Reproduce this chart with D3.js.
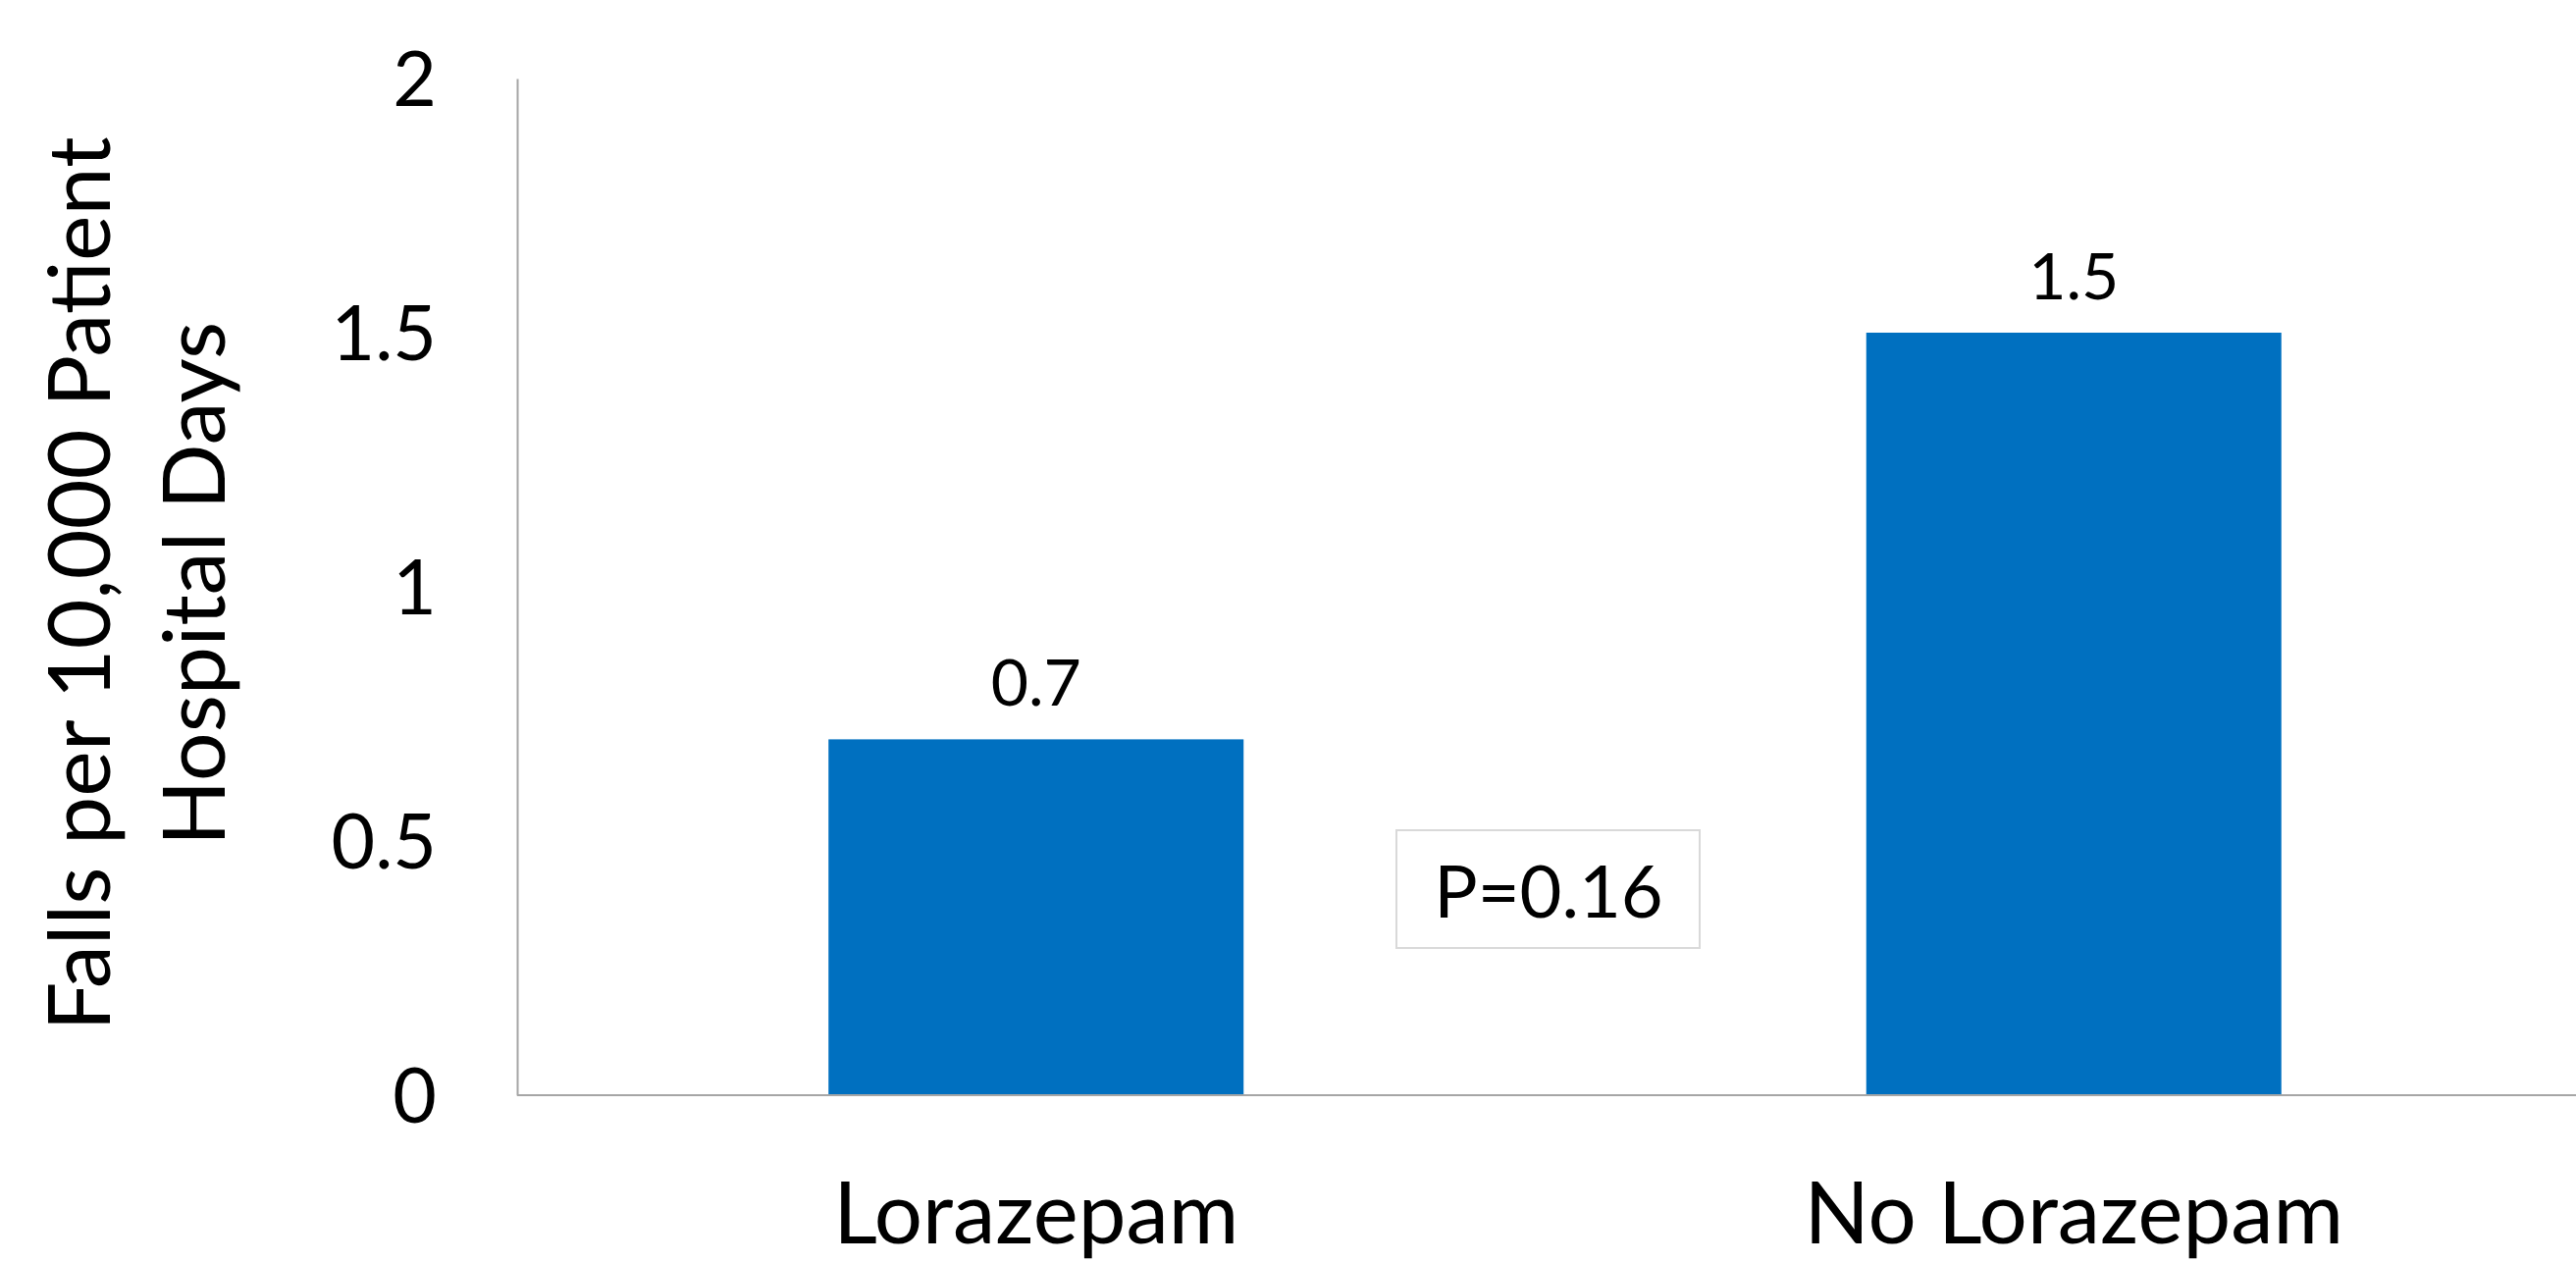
<!DOCTYPE html>
<html>
<head>
<meta charset="utf-8">
<script src="https://cdn.jsdelivr.net/npm/d3@7"></script>
<style>
  html, body { margin: 0; padding: 0; background: #fff; }
  svg { display: block; font-family: Lato, "Open Sans", sans-serif; }
</style>
</head>
<body>
<svg id="chart" width="2625" height="1287"></svg>
<script>
// --- data ---
const categories = ["Lorazepam", "No Lorazepam"];
const values = [0.7, 1.5];
const valueLabels = ["0.7", "1.5"];
const yTicks = [0, 0.5, 1, 1.5, 2];
const yTitleLines = ["Falls per 10,000 Patient", "Hospital Days"];
const pLabel = "P=0.16";

const svg = d3.select("#chart");

// plot area (the category axis runs a little past the right edge, as in the original)
const plotLeft = 527, plotRight = 2642, plotTop = 80, plotBottom = 1116;

const x = d3.scaleBand()
    .domain(categories)
    .range([plotLeft, plotRight])
    .paddingInner(0.6)
    .paddingOuter(0.3);

const y = d3.scaleLinear()
    .domain([0, 2])
    .range([plotBottom, plotTop]);

const axisColor = "#a6a6a6";

// bars
svg.selectAll("rect.bar")
    .data(values)
    .join("rect")
    .attr("class", "bar")
    .attr("x", (d, i) => x(categories[i]))
    .attr("width", x.bandwidth())
    .attr("y", d => y(d))
    .attr("height", d => y(0) - y(d))
    .attr("fill", "#0070c0");

// y axis
const yAxis = svg.append("g")
    .attr("transform", `translate(${plotLeft},0)`)
    .call(d3.axisLeft(y)
        .tickValues(yTicks)
        .tickFormat(d3.format("~g"))
        .tickSize(0)
        .tickPadding(82));
yAxis.select(".domain").attr("stroke", axisColor).attr("stroke-width", 2);
yAxis.selectAll(".tick text")
    .attr("fill", "#000")
    .attr("font-size", 77)
    .attr("font-family", "Lato, 'Open Sans', sans-serif")
    .attr("dy", "0.36em");

// x baseline
svg.append("line")
    .attr("x1", plotLeft).attr("x2", plotRight)
    .attr("y1", y(0)).attr("y2", y(0))
    .attr("stroke", axisColor)
    .attr("stroke-width", 2);

// category labels
svg.selectAll("text.cat")
    .data(categories)
    .join("text")
    .attr("class", "cat")
    .attr("x", d => x(d) + x.bandwidth() / 2)
    .attr("y", 1267)
    .attr("text-anchor", "middle")
    .attr("font-size", 87)
    .text(d => d);

// value labels
svg.selectAll("text.val")
    .data(values)
    .join("text")
    .attr("class", "val")
    .attr("x", (d, i) => x(categories[i]) + x.bandwidth() / 2)
    .attr("y", d => y(d) - 34)
    .attr("text-anchor", "middle")
    .attr("font-size", 66)
    .text((d, i) => valueLabels[i]);

// y axis title, two lines rotated
const title = svg.append("text")
    .attr("transform", "translate(0,595) rotate(-90)")
    .attr("text-anchor", "middle")
    .attr("font-size", 88);
title.selectAll("tspan")
    .data(yTitleLines)
    .join("tspan")
    .attr("x", 0)
    .attr("y", (d, i) => 112 + i * 117)
    .text(d => d);

// p-value box
const pBox = svg.append("g");
pBox.append("rect")
    .attr("x", 1423).attr("y", 846)
    .attr("width", 309).attr("height", 120)
    .attr("fill", "#fff")
    .attr("stroke", "#d9d9d9")
    .attr("stroke-width", 2);
pBox.append("text")
    .attr("x", 1578).attr("y", 935)
    .attr("text-anchor", "middle")
    .attr("font-size", 74)
    .text(pLabel);
</script>
</body>
</html>
